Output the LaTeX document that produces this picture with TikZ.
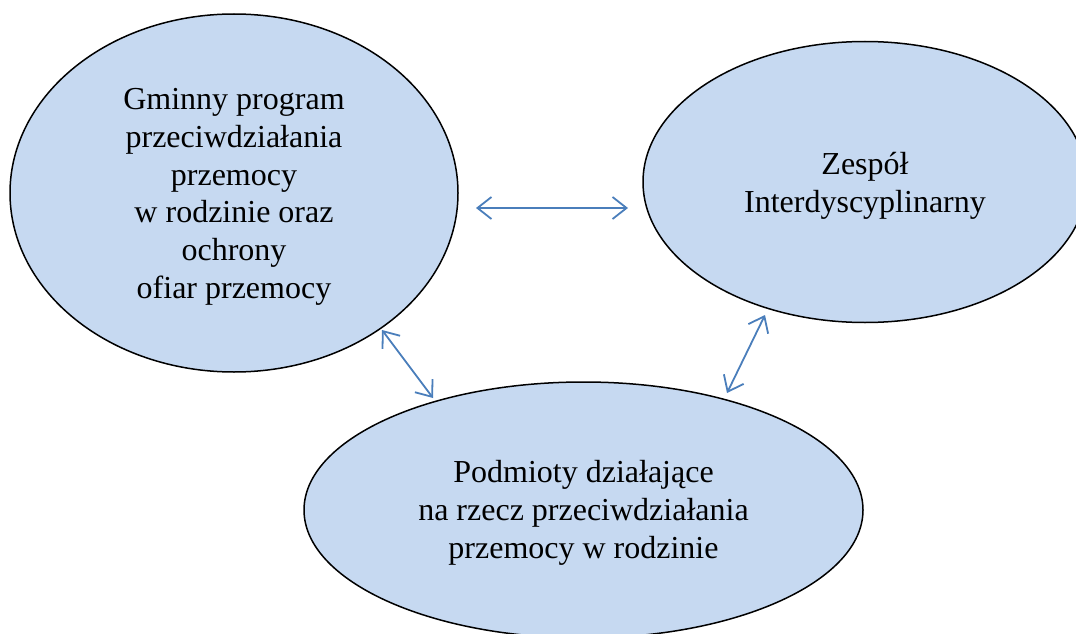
\documentclass[tikz,border=0pt]{standalone}
\usepackage{fontspec}
\setmainfont{Liberation Serif}
\usetikzlibrary{shapes.geometric,arrows.meta}
\definecolor{fillblue}{HTML}{C6D9F1}
\definecolor{arrowblue}{HTML}{4A7EBB}
\begin{document}
\begin{tikzpicture}[x=1pt,y=-1pt,
  bubble/.style={ellipse, draw=black, line width=1.5pt, fill=fillblue, inner sep=0pt},
  caption/.style={align=center, inner sep=0pt, font=\fontsize{32}{37.7}\selectfont},
  link/.style={draw=arrowblue, line width=1.8pt, {Straight Barb[length=14pt,width=22pt]}-{Straight Barb[length=14pt,width=22pt]}}]
\useasboundingbox (0,0) rectangle (1076,634);
\node[bubble, minimum width=448pt, minimum height=358pt] (L) at (234,193) {};
\node[bubble, minimum width=444pt, minimum height=281pt] (R) at (865,182) {};
\node[bubble, minimum width=559pt, minimum height=256pt] (B) at (583.5,510) {};
\node[caption] (Lt) at ([yshift=-4pt]L.center) {Gminny program\\przeciwdziałania\\przemocy\\w rodzinie oraz\\ochrony\\ofiar przemocy};
\node[caption] (Rt) at ([yshift=-4pt]R.center) {Zespół\\Interdyscyplinarny};
\node[caption] (Bt) at ([yshift=-3pt]B.center) {Podmioty działające\\na rzecz przeciwdziałania\\przemocy w rodzinie};
\coordinate (h1) at (476,208);
\coordinate (h2) at (628,208);
\coordinate (d1) at (382,330);
\coordinate (d2) at (433,398);
\coordinate (e1) at (765,315);
\coordinate (e2) at (727,393);
\draw[link] (h1) -- (h2);
\draw[link] (d1) -- (d2);
\draw[link] (e1) -- (e2);
\end{tikzpicture}
\end{document}
